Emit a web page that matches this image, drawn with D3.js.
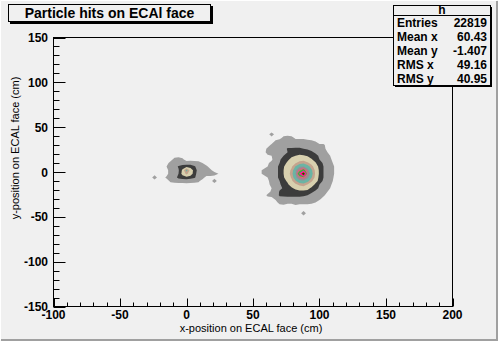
<!DOCTYPE html>
<html><head><meta charset="utf-8">
<script src="https://cdn.jsdelivr.net/npm/d3@7"></script>
<style>html,body{margin:0;padding:0;background:#f0f0f0;} svg{display:block;}</style>
</head><body>
<script>
// Axis tick values
const xMajorTicks = [-100, -50, 0, 50, 100, 150, 200];
const yMajorTicks = [-150, -100, -50, 0, 50, 100, 150];
const xMinorTicks = d3.range(-100, 201, 10);
const yMinorTicks = d3.range(-150, 151, 10);

// Statistics box
const statLabels = ["Entries", "Mean x", "Mean y", "RMS x", "RMS y"];
const statValues = ["22819", "60.43", "-1.407", "49.16", "40.95"];

// Contour levels (counts per bin) and their fill colours
const levels = [2, 10, 20, 40, 60, 90, 120, 150, 200, 260, 330];
const levelColors = ["#a0a0a0", "#3c3c3c", "#d8d0ae", "#c4a48e", "#6ab4a4",
  "#9c8a92", "#e0627c", "#3cb43c", "#ff10d0", "#ff2040", "#006400"];

// Main cluster: bin centres x = 58..112 (step 3), y = 42..-50 (step 4)
const mainX = d3.range(58, 113, 3);
const mainY = d3.range(42, -51, -4);
const mainCounts = [
  [0,0,5,0,0,0,0,0,0,0,0,0,0,0,0,0,0,0,0],
  [0,0,0,0,0,4,5,4,1,1,1,0,0,0,0,0,0,0,0],
  [0,0,0,3,5,6,3,3,4,4,4,4,3,2,0,0,0,0,0],
  [0,0,3,5,6,4,5,6,7,7,7,6,5,4,3,3,0,0,0],
  [0,3,5,5,4,6,11,11,11,11,10,9,8,6,5,4,0,0,0],
  [0,4,5,3,6,8,10,12,15,16,15,14,11,9,7,5,2,0,0],
  [0,1,2,5,7,10,14,18,20,22,21,19,16,12,9,6,4,1,0],
  [0,0,1,6,9,13,18,23,27,30,32,28,21,16,10,8,5,2,0],
  [0,1,4,7,10,16,22,29,38,51,55,44,33,21,13,9,6,3,0],
  [0,2,5,7,12,19,26,36,62,85,90,75,47,29,15,10,7,4,1],
  [3,3,5,7,12,20,28,45,83,130,182,100,64,34,17,10,7,4,1],
  [3,3,5,7,12,20,28,50,90,210,420,120,70,36,17,10,7,4,1],
  [0,2,5,7,12,19,26,43,80,122,140,97,62,33,15,10,7,4,0],
  [0,1,4,7,10,16,22,35,57,79,84,70,43,28,13,9,6,3,0],
  [0,1,3,6,9,13,18,26,36,45,49,39,31,16,10,8,5,2,0],
  [0,0,2,5,8,11,14,18,23,28,30,26,16,12,9,6,4,1,0],
  [0,0,3,3,11,12,13,13,15,16,15,14,11,9,7,5,2,0,0],
  [0,3,4,2,12,13,13,13,12,12,11,10,8,6,5,3,0,0,0],
  [0,0,0,3,5,4,5,6,7,7,7,6,5,4,3,0,0,0,0],
  [0,0,0,0,4,5,3,3,4,4,4,4,3,2,0,0,0,0,0],
  [0,0,0,0,0,0,0,0,1,0,0,0,0,0,0,0,0,0,0],
  [0,0,0,0,0,0,0,0,0,0,0,0,0,0,0,0,0,0,0],
  [0,0,0,0,0,0,0,0,0,0,5,0,0,0,0,0,0,0,0],
  [0,0,0,0,0,0,0,0,0,0,0,0,0,0,0,0,0,0,0]
];

// Small cluster near the origin: x = -27..27 (step 3), y = 18..-14 (step 4)
const sideX = d3.range(-27, 28, 3);
const sideY = d3.range(18, -15, -4);
const sideCounts = [
  [0,0,0,0,0,0,0,0,0,0,0,0,0,0,0,0,0,0,0],
  [0,0,0,0,0,0,4,5,3,0,0,0,0,0,0,0,0,0,0],
  [0,0,0,0,0,4,5,6,5,5,6,5,4,2,0,0,0,0,0],
  [0,0,0,0,2,5,6,11,14,16,14,11,6,5,3,0,0,0,0],
  [0,0,0,0,0,5,7,9,22,70,30,14,7,5,4,3,0,0,0],
  [0,0,0,0,0,5,8,10,24,45,28,13,6,5,5,5,4,2,0],
  [0,5,0,0,3,5,7,12,14,15,13,11,6,4,0,0,0,0,0],
  [0,0,0,0,0,3,4,5,5,6,5,4,3,0,0,0,5,0,0],
  [0,0,0,0,0,0,0,0,0,0,0,0,0,0,0,0,0,0,0]
];

const W = 498, H = 341;
const fx0 = 53.5, fx1 = 452.5, fy0 = 37.5, fy1 = 306.5;
const x = d3.scaleLinear().domain([-100, 200]).range([fx0, fx1]);
const y = d3.scaleLinear().domain([-150, 150]).range([fy1, fy0]);

const svg = d3.select("body").append("svg").attr("width", W).attr("height", H);
const FONT = "'Liberation Sans', Arial, sans-serif";

// Canvas with bevelled border
svg.append("rect").attr("x", 0).attr("y", 0).attr("width", W).attr("height", H).attr("fill", "#f0f0f0");
svg.append("path").attr("d", `M0.5,${H-0.5}V0.5H${W-0.5}`).attr("fill", "none").attr("stroke", "#ffffff");
svg.append("path").attr("d", `M1,${H-1}H${W-1}V1`).attr("fill", "none").attr("stroke", "#a0a0a0").attr("stroke-width", 2);

svg.append("clipPath").attr("id", "frameClip").append("rect")
  .attr("x", fx0).attr("y", fy0).attr("width", fx1 - fx0).attr("height", fy1 - fy0);

// Filled contours of a binned grid
function drawGrid(xs, ys, counts) {
  const nx = xs.length, ny = ys.length;
  const dx = xs[1] - xs[0], dy = ys[1] - ys[0];
  const values = counts.flat();
  const proj = d3.geoTransform({
    point: function(gx, gy) {
      this.stream.point(x(xs[0] + (gx - 0.5) * dx), y(ys[0] + (gy - 0.5) * dy));
    }
  });
  const path = d3.geoPath(proj);
  const cs = d3.contours().size([nx, ny]).thresholds(levels)(values);
  svg.append("g").attr("clip-path", "url(#frameClip)")
    .selectAll("path").data(cs).join("path")
    .attr("d", path)
    .attr("fill", d => levelColors[levels.indexOf(d.value)])
    .attr("stroke", "none");
}

drawGrid(sideX, sideY, sideCounts);
drawGrid(mainX, mainY, mainCounts);

// Frame
svg.append("rect").attr("x", fx0).attr("y", fy0).attr("width", fx1 - fx0).attr("height", fy1 - fy0)
  .attr("fill", "none").attr("stroke", "#000").attr("stroke-width", 1);

// Ticks (drawn inward)
const ticks = svg.append("g").attr("stroke", "#000").attr("stroke-width", 1);
xMinorTicks.forEach(v => {
  const len = xMajorTicks.includes(v) ? 8 : 4;
  ticks.append("line").attr("x1", Math.round(x(v)) + 0.5).attr("x2", Math.round(x(v)) + 0.5)
    .attr("y1", fy1).attr("y2", fy1 - len);
});
yMinorTicks.forEach(v => {
  const len = yMajorTicks.includes(v) ? 12 : 6;
  ticks.append("line").attr("y1", Math.round(y(v)) + 0.5).attr("y2", Math.round(y(v)) + 0.5)
    .attr("x1", fx0).attr("x2", fx0 + len);
});

// Tick labels
const lab = svg.append("g").attr("font-family", FONT)
  .attr("font-weight", "bold").attr("font-size", 12).attr("fill", "#000");
xMajorTicks.forEach(v => {
  lab.append("text").attr("x", x(v)).attr("y", 319).attr("text-anchor", "middle").text(v);
});
yMajorTicks.forEach(v => {
  lab.append("text").attr("x", 48).attr("y", y(v) + 4.5).attr("text-anchor", "end").text(v);
});

// Axis titles
svg.append("text").attr("x", 251).attr("y", 332).attr("text-anchor", "middle")
  .attr("font-family", FONT).attr("font-size", 11)
  .text("x-position on ECAL face (cm)");
svg.append("text").attr("transform", "translate(19,148) rotate(-90)").attr("text-anchor", "middle")
  .attr("font-family", FONT).attr("font-size", 11)
  .text("y-position on ECAL face (cm)");

// Title box
svg.append("rect").attr("x", 10).attr("y", 6).attr("width", 203).attr("height", 18).attr("fill", "#000");
svg.append("rect").attr("x", 8.5).attr("y", 4.5).attr("width", 202).attr("height", 17)
  .attr("fill", "#f0f0f0").attr("stroke", "#000");
svg.append("text").attr("x", 109.5).attr("y", 18).attr("text-anchor", "middle")
  .attr("font-family", FONT).attr("font-weight", "bold").attr("font-size", 14)
  .text("Particle hits on ECAl face");

// Statistics box
const sx0 = 393.5, sx1 = 490.5, sy0 = 5.5, sy1 = 85.5;
svg.append("rect").attr("x", sx0 + 1.5).attr("y", sy0 + 1.5).attr("width", sx1 - sx0).attr("height", sy1 - sy0).attr("fill", "#000");
svg.append("rect").attr("x", sx0).attr("y", sy0).attr("width", sx1 - sx0).attr("height", sy1 - sy0)
  .attr("fill", "#f0f0f0").attr("stroke", "#000");
svg.append("line").attr("x1", sx0).attr("x2", sx1).attr("y1", 15.5).attr("y2", 15.5).attr("stroke", "#000");
const st = svg.append("g").attr("font-family", FONT)
  .attr("font-weight", "bold").attr("font-size", 12);
st.append("text").attr("x", (sx0 + sx1) / 2).attr("y", 14).attr("text-anchor", "middle").text("h");
const rowY = d3.scaleBand().domain(statLabels).range([15.5, sy1]);
statLabels.forEach((l, i) => {
  const cy = rowY(l) + rowY.bandwidth() / 2 + 4.5;
  st.append("text").attr("x", 397).attr("y", cy).text(l);
  st.append("text").attr("x", 487).attr("y", cy).attr("text-anchor", "end").text(statValues[i]);
});
</script>
</body></html>
